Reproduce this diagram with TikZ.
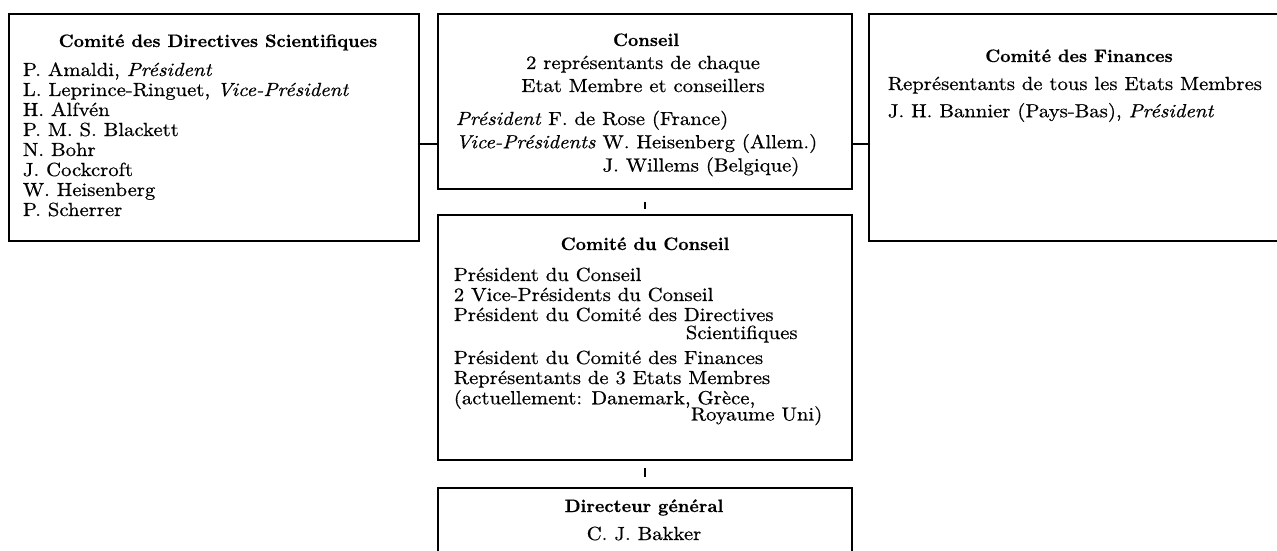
\documentclass[tikz,border=0pt]{standalone}
\usepackage{fontspec}
\setmainfont{lmroman10-regular.otf}[FakeStretch=1.09,FakeBold=0.6,
  ItalicFont=lmroman10-italic.otf, BoldFont=lmroman10-bold.otf]
\newfontfamily\headfont{lmroman10-bold.otf}[FakeBold=0.5]
\usepackage{tikz}
\usetikzlibrary{positioning}

\begin{document}
\begin{tikzpicture}[x=1pt,y=-1pt,line width=1.7pt,
  box/.style={draw,anchor=north west,inner sep=0pt},
  head/.style={anchor=base,font=\headfont\fontsize{18}{20}\selectfont},
  txt/.style={anchor=base west,inner sep=0pt,font=\fontsize{19}{20}\selectfont},
  tick/.style={line width=1.6pt}]
%%Location
\useasboundingbox (0,0) rectangle (1277,551);
%%Boxes
\node[box,minimum width=410,minimum height=227] (dirsci) at (8,13) {};
\node[box,minimum width=414,minimum height=175] (conseil) at (437,13) {};
\node[box,minimum width=430,minimum height=227] (fin) at (868,13) {};
\node[box,minimum width=414,minimum height=245] (comite) at (437,214) {};
\node[box,minimum width=414,minimum height=90] (dirgen) at (437,487) {};
%%Links
\coordinate (lvl) at (0,144);
\draw (dirsci.east |- lvl) -- (conseil.west |- lvl);
\draw (conseil.east |- lvl) -- (fin.west |- lvl);
\draw[tick,shorten <=12pt,shorten >=5pt] (conseil.south) -- (comite.north);
\draw[tick,shorten <=7pt,shorten >=10pt] (comite.south) -- (dirgen.north);
%%Label
\node[head] (dirscihead) at (218,47) {Comité des Directives Scientifiques};
\node[txt] (dirscitxt) at (22,76) {\begin{tabular}[t]{@{}l@{}}
  P. Amaldi, \textit{Président}\\
  L. Leprince-Ringuet, \textit{Vice-Président}\\
  H. Alfvén\\
  P. M. S. Blackett\\
  N. Bohr\\
  J. Cockcroft\\
  W. Heisenberg\\
  P. Scherrer
\end{tabular}};
\node[head] (conseilhead) at (646,46) {Conseil};
\node[txt,anchor=base] (conseiltxt) at (643,69) {\begin{tabular}[t]{@{}c@{}}
  2 représentants de chaque\\[3pt]
  Etat Membre et conseillers
\end{tabular}};
\node[txt] (conseilpres) at (455,125) {\begin{tabular}[t]{@{}l@{}}
  \textit{Président} F. de Rose (France)\\[3pt]
  \textit{Vice-Présidents} W. Heisenberg (Allem.)\\[3pt]
  \hphantom{\textit{Vice-Présidents} }J. Willems (Belgique)
\end{tabular}};
\node[head] (finhead) at (1079,62) {Comité des Finances};
\node[txt] (fintxt) at (887,90) {\begin{tabular}[t]{@{}l@{}}
  Représentants de tous les Etats Membres\\[7pt]
  J. H. Bannier (Pays-Bas), \textit{Président}
\end{tabular}};
\node[head] (comitehead) at (645,250) {Comité du Conseil};
\node[txt] (comitetxt) at (453,281) {\begin{tabular}[t]{@{}l@{}}
  Président du Conseil\\
  2 Vice-Présidents du Conseil\\
  Président du Comité des Directives\\[-2pt]
  \hspace*{232pt}Scientifiques\\[5pt]
  Président du Comité des Finances\\
  Représentants de 3 Etats Membres\\
  (actuellement: Danemark, Grèce,\\[-4pt]
  \hspace*{237pt}Royaume Uni)
\end{tabular}};
\node[head] (dirgenhead) at (644,512) {Directeur général};
\node[txt,anchor=base] (dirgentxt) at (644,540) {C. J. Bakker};
\end{tikzpicture}
\end{document}
